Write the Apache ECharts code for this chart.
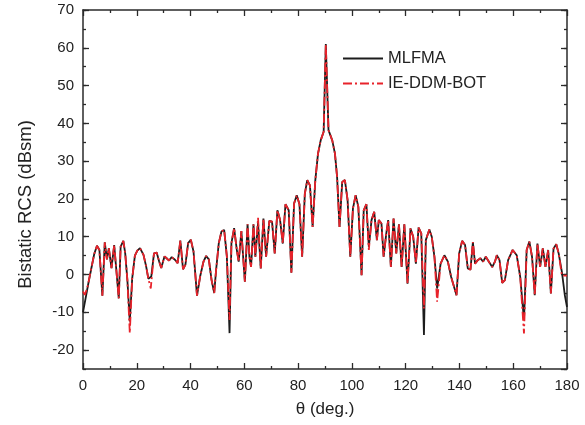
<!DOCTYPE html>
<html><head><meta charset="utf-8">
<script src="https://cdn.jsdelivr.net/npm/echarts@6/dist/echarts.min.js"></script>
<style>html,body{margin:0;padding:0;background:#fff}#c{width:585px;height:425px}</style>
</head><body><div id="c"></div>
<script>
// MLFMA (theta in deg, RCS in dBsm)
var thetaMLFMA = [0,0.7,2,3.2,4.2,5.2,6.1,7.2,8.1,8.9,9.6,10.6,11.6,12.3,13.3,14,15,15.7,16.5,17.4,18.3,19.3,20.2,21.2,22.5,23.5,24.3,25.4,26.4,27.4,28.3,29.1,30.3,31.1,32,33,34.2,35.2,36.2,37.2,38.1,39.1,40.1,41.1,42.4,43.6,44.8,45.8,46.8,47.8,48.8,49.5,50.5,51.5,52.5,53.5,54.5,55.2,56.2,57.2,57.9,58.9,60.2,61.2,61.9,62.5,63.4,64.1,65.1,66.1,67.1,68.1,69.3,70.3,71.3,72.3,73.3,74.3,75.3,76.5,77.5,78.5,79.5,80.5,81.5,82.5,83.4,84.4,85.4,86.4,87.4,88.4,89.5,90.3,91.3,92.7,93.7,94.5,95.4,96.4,97.4,98.4,99.4,100.4,101.4,102.4,103.6,104.4,105.4,106.3,107.3,108.3,109.3,110,111,111.8,112.8,113.5,114.5,115.5,116.5,117.5,118.5,119.5,120.7,121.8,122.8,123.8,124.8,125.8,126.8,127.5,128.8,129.7,130.7,131.7,133,134.4,135.7,136.9,138.9,139.9,141,142.1,143.1,144.1,145,145.8,146.8,147.8,148.8,149.8,151.2,152.2,153.2,153.9,154.9,155.9,156.9,158.1,159.8,161.3,162.6,164,165,166,167,168,169,170,171,172,173,174,175,176,176.9,178.1,179.2,180];
var rcsMLFMA = [-10,-9.8,-2.3,2,5.5,7.6,6.5,-5.6,8.5,4,7,1.7,7.8,2,-6.3,7.4,8.9,5.6,-1.4,-12.4,-1,5,6.3,7,5.2,2.1,-1.1,-0.5,5.6,5.8,3.5,1.7,4.8,4.3,3.7,4.6,3.9,3,9,1.4,2.6,8.3,9.2,6.1,-5.6,-0.4,3.4,4.9,4,-1.4,-4.9,1.2,8.3,11.4,11.8,4.8,-15.5,8.3,12.3,6.5,3.4,11.5,-1.9,13.3,4.7,2,13.3,4.7,13.7,1.6,14.8,4.7,14.2,14,5.6,17,14.4,8.2,18.6,17,0.5,18.8,21,18.6,4.7,21.4,25,23.6,12.6,25,32,35.5,37.8,61,38.2,35.5,32,25.8,12.6,24.5,25,19.7,4.7,17.5,21,17.9,-0.2,17,18.6,7.3,14.4,16.6,9.1,14.4,13.5,4.7,10.9,14.4,2,14.8,5.6,13.3,2,13.3,-2.4,12.2,10,2.9,12.4,10.9,-16,9.1,11.9,10,4.7,-3.7,2.9,5.1,3.4,-0.6,-5.5,5.6,8.9,7.8,1.6,1.3,8.6,2.9,3.8,4.3,3.4,4.7,3.1,2,3.4,5.1,3.8,-2.2,-1.5,3.8,6.5,5.1,-0.6,-12,6.5,8.7,4.7,-5.5,8.2,2,6.9,2,6.5,-5,6.9,8,5.6,0.7,-5.5,-8.6];
// IE-DDM-BOT
var thetaIE = [0,0.7,1.7,2.7,4.2,5.2,6.1,7.2,8.1,8.9,9.6,10.6,11.6,12.3,13.3,14,15,15.7,16.5,17.4,18.3,19.3,20.2,21.2,22.5,23.5,24.3,25.2,26.4,27.4,28.3,29.1,30.3,31.1,32,33,34.2,35.2,36.2,37.2,38.1,39.1,40.1,41.1,42.4,43.6,44.8,45.8,46.8,47.8,48.8,49.5,50.5,51.5,52.5,53.5,54.5,55.2,56.2,57.2,57.9,58.9,60.2,61.2,61.9,62.5,63.4,64.1,65.1,66.1,67.1,68.1,69.3,70.3,71.3,72.3,73.3,74.3,75.3,76.5,77.5,78.5,79.5,80.5,81.5,82.5,83.4,84.4,85.4,86.4,87.4,88.4,89.5,90.3,91.3,92.7,93.7,94.5,95.4,96.4,97.4,98.4,99.4,100.4,101.4,102.4,103.6,104.4,105.4,106.3,107.3,108.3,109.3,110,111,111.8,112.8,113.5,114.5,115.5,116.5,117.5,118.5,119.5,120.7,121.8,122.8,123.8,124.8,125.8,126.8,127.5,128.8,129.7,130.7,131.7,133,134.4,135.7,136.9,138.9,139.9,141,142.1,143.1,144.1,145,145.8,146.8,147.8,148.8,149.8,151.2,152.2,153.2,153.9,154.9,155.9,156.9,158.1,159.8,161.3,162.6,164,165,166,167,168,169,170,171,172,173,174,175,176,176.9,178.1,179.2,180];
var rcsIE = [-4.5,-5.4,-3.2,0.3,5.5,7.6,6.5,-5.6,8.5,4,7,1.7,7.8,2,-6.3,7.4,8.9,5.6,-1.4,-15.5,-1,5,6.3,7,5.2,2.1,-1.1,-3.7,5.6,5.8,3.5,1.7,4.8,4.3,3.7,4.6,3.9,3,9,1.4,2.6,8.3,9.2,6.1,-5.6,-0.4,3.4,4.9,4,-1.4,-4.9,1.2,8.3,11.4,11.8,4.8,-12,8.3,12.3,6.5,3.4,11.5,-1.9,13.3,4.7,2,13.3,4.7,15,1.6,14.8,4.7,14.2,14,5.6,17,14.4,8.2,18.6,17,0.5,18.8,21,18.6,4.7,21.4,25,23.6,12.6,25,32,35.5,37.8,61,38.2,35.5,32,25.8,12.6,24.5,25,19.7,4.7,17.5,21,17.9,-0.2,17,18.6,6.5,14.4,16.6,9.1,14.4,13.5,4.7,10.9,14.4,2,14.8,5.6,13.3,2,13.3,-2.4,12.2,10,2.9,12.4,10.9,-9,9.1,11.9,10,4.7,-7.2,2.9,5.1,3.4,-0.6,-5.5,5.6,8.9,7.8,1.6,1.3,8.6,2.9,3.8,4.3,3.4,4.7,3.1,2,3.4,5.1,3.8,-2.2,-1.5,3.8,6.5,5.1,-0.6,-15.6,6.5,8.7,4.7,-5.5,8.2,2,6.9,2,6.5,-5,6.9,8,5.6,-0.3,-0.3,-0.3];
var seriesNames = ['MLFMA','IE-DDM-BOT'];
var xTicks = [0,20,40,60,80,100,120,140,160,180];
var yTicks = [-20,-10,0,10,20,30,40,50,60,70];

function pairs(xs, ys){ return xs.map(function(x,i){ return [x, ys[i]]; }); }

var axisCol = '#2a2a2a';
var FF = 'Liberation Sans, Arial, sans-serif';
var lblFont = {color:'#222', fontSize:15, fontFamily:FF};
function xa(pos, labels){
  return {type:'value', position:pos, min:xTicks[0], max:xTicks[xTicks.length-1], interval:20,
    axisLine:{show:true, onZero:false, lineStyle:{color:axisCol, width:1.5}},
    axisTick:{show:true, inside:true, length:6, lineStyle:{color:axisCol, width:1.3}},
    minorTick:{show:true, splitNumber:2, length:3, lineStyle:{color:axisCol, width:1.3}},
    axisLabel:Object.assign({show:labels, margin:9}, lblFont),
    splitLine:{show:false},
    name: labels ? 'θ (deg.)' : '', nameLocation:'middle', nameGap:32,
    nameTextStyle:{color:'#222', fontSize:17, fontFamily:FF}
  };
}
function yaMajor(pos, labels){
  return {type:'value', position:pos, min:-25, max:70, splitNumber:10,
    axisLine:{show:true, onZero:false, lineStyle:{color:axisCol, width:1.5}},
    axisTick:{show:true, inside:true, length:6, lineStyle:{color:axisCol, width:1.3}},
    axisLabel:Object.assign({show:labels, margin:9, showMinLabel:false,
      formatter:function(v){ return yTicks.indexOf(v) >= 0 ? String(v) : ''; }}, lblFont),
    splitLine:{show:false},
    name: labels ? 'Bistatic RCS (dBsm)' : '', nameLocation:'middle', nameGap:48, nameRotate:90,
    nameTextStyle:{color:'#222', fontSize:18.5, fontFamily:FF, padding:[0,30,0,0]}
  };
}
function yaMinor(pos){
  return {type:'value', position:pos, min:-25, max:70, interval:5,
    axisLine:{show:false, onZero:false},
    axisTick:{show:true, inside:true, length:3, lineStyle:{color:axisCol, width:1.3}},
    axisLabel:{show:false}, splitLine:{show:false}};
}

var chart = echarts.init(document.getElementById('c'), null, {renderer:'canvas'});
chart.setOption({
  animation:false,
  backgroundColor:'#fff',
  grid:{left:83, right:18, top:10, bottom:56, containLabel:false},
  legend:{
    data:seriesNames, orient:'vertical', left:337, top:45, itemWidth:40, itemHeight:14, itemGap:8,
    itemStyle:{opacity:0},
    textStyle:{color:'#222', fontSize:16.5, fontFamily:FF}
  },
  xAxis:[xa('bottom', true), xa('top', false)],
  yAxis:[yaMajor('left', true), yaMinor('left'), yaMajor('right', false), yaMinor('right')],
  series:[
    {name:seriesNames[0], type:'line', xAxisIndex:0, yAxisIndex:0, symbol:'none', data:pairs(thetaMLFMA, rcsMLFMA),
      lineStyle:{color:'#1c1c1c', width:1.8}, itemStyle:{color:'#1c1c1c'}},
    {name:seriesNames[1], type:'line', xAxisIndex:0, yAxisIndex:0, symbol:'none', data:pairs(thetaIE, rcsIE),
      lineStyle:{color:'#e8232b', width:1.8, type:[9,3,2,3]}, itemStyle:{color:'#e8232b'}}
  ]
});
</script></body></html>
